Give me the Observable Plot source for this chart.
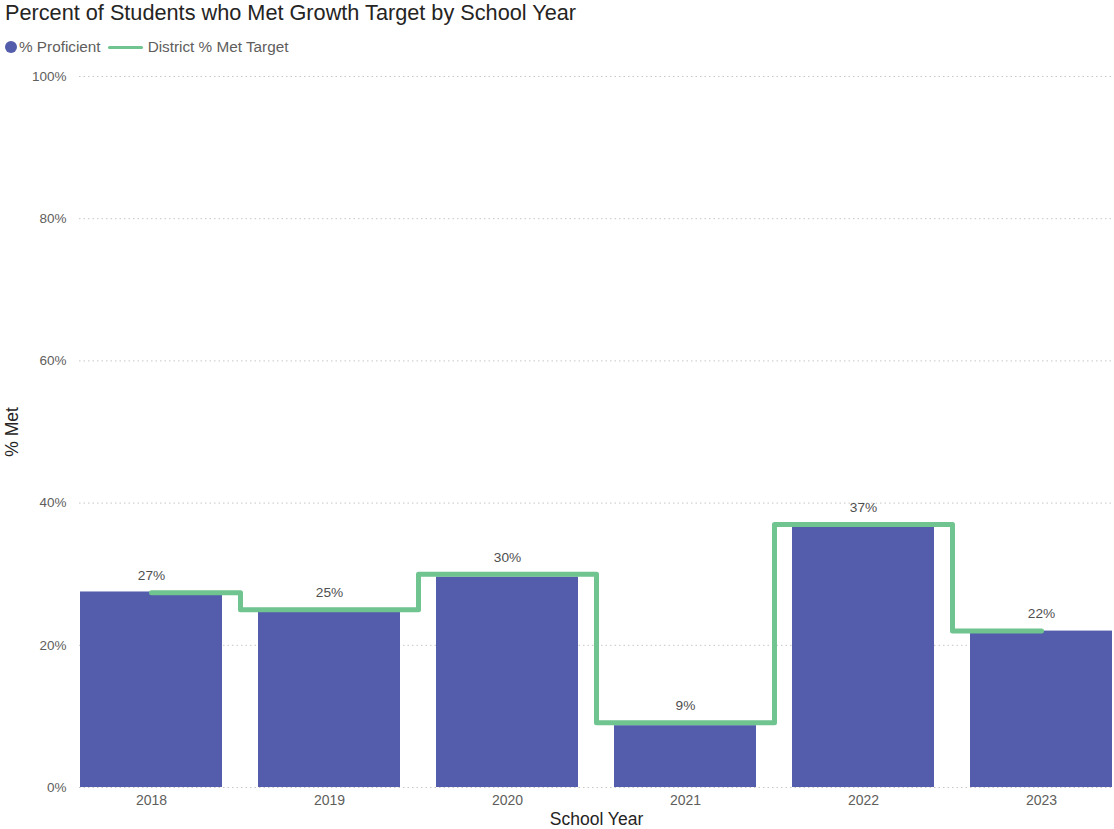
<!DOCTYPE html>
<html><head><meta charset="utf-8">
<script src="https://cdn.jsdelivr.net/npm/d3@7"></script>
<script src="https://cdn.jsdelivr.net/npm/@observablehq/plot@0.6"></script>
<style>
body{margin:0;background:#fff;font-family:"Liberation Sans",Arial,sans-serif;}
#header{position:relative;width:1114px;height:60px;}
#title{position:absolute;left:5px;top:1px;font-size:21.7px;color:#252423;white-space:nowrap;line-height:24px;}
#legend{position:absolute;left:5px;top:38px;height:18px;display:flex;align-items:center;font-size:15.3px;color:#605E5C;white-space:nowrap;}
#legend .sw-dot{display:inline-block;width:12px;height:12px;border-radius:50%;}
#legend .sw-line{display:inline-block;width:35px;height:3px;border-radius:2px;}
</style></head><body>
<div id="header"><div id="title"></div><div id="legend"></div></div>
<div id="chart"></div>
<script>
const titleText = "Percent of Students who Met Growth Target by School Year";
const years = ["2018", "2019", "2020", "2021", "2022", "2023"];
const proficient = [27.5, 24.7, 29.6, 8.7, 36.6, 22.0];
const districtTarget = [27.4, 25.0, 30.0, 9.1, 37.0, 22.0];
const yTicks = [0, 20, 40, 60, 80, 100];
const seriesNames = ["% Proficient", "District % Met Target"];
const seriesColors = ["#535DAB", "#6FC48F"];
const xTitle = "School Year";
const yTitle = "% Met";

const data = years.map((y, i) => ({year: y, bar: proficient[i], target: districtTarget[i]}));

document.getElementById("title").textContent = titleText;
const legend = document.getElementById("legend");
legend.innerHTML =
  `<span class="sw-dot" style="background:${seriesColors[0]}"></span>` +
  `<span style="margin-left:2px">${seriesNames[0]}</span>` +
  `<span class="sw-line" style="background:${seriesColors[1]};margin-left:7px"></span>` +
  `<span style="margin-left:5px">${seriesNames[1]}</span>`;

const chart = Plot.plot({
  width: 1114,
  height: 769,
  marginTop: 16,
  marginBottom: 42,
  marginLeft: 79,
  marginRight: 1,
  style: {fontFamily: '"Liberation Sans", Arial, sans-serif', background: "#fff"},
  x: {type: "band", domain: years, paddingInner: 0.205, paddingOuter: 0, align: 0.5},
  y: {domain: [0, 100]},
  marks: [
    Plot.ruleY(yTicks, {stroke: "#C8C6C4", strokeDasharray: "1.5,3", strokeWidth: 1}),
    Plot.barY(data, {x: "year", y: "bar", fill: seriesColors[0]}),
    Plot.line(data, {x: "year", y: "target", curve: "step", stroke: seriesColors[1], strokeWidth: 5, strokeLinejoin: "round", strokeLinecap: "round"}),
    Plot.text(data, {x: "year", y: "target", text: d => Math.round(d.target) + "%", dy: -17, fill: "#4F4F4F", fontSize: 13.7}),
    Plot.axisY({ticks: yTicks, tickFormat: d => d + "%", tickSize: 0, tickPadding: 13, fontSize: 13.5, color: "#605E5C", label: null}),
    Plot.axisX({tickSize: 0, tickPadding: 8, fontSize: 14, color: "#605E5C", label: null}),
    Plot.text([yTitle], {frameAnchor: "left", dx: -67.5, rotate: -90, fontSize: 17.5, fill: "#252423", textAnchor: "middle", lineAnchor: "middle"}),
    Plot.text([xTitle], {frameAnchor: "bottom", dy: 32, fontSize: 17.5, fill: "#252423", textAnchor: "middle", lineAnchor: "middle"})
  ]
});
document.getElementById("chart").appendChild(chart);
</script>
</body></html>
